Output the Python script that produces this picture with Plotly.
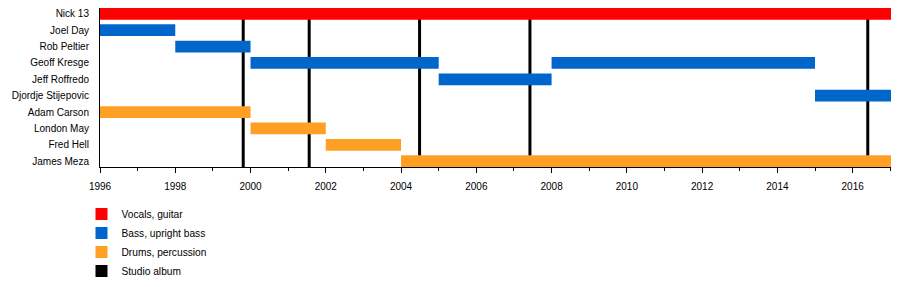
import plotly.graph_objects as go
from datetime import date

# ---- data ----
members = ["Nick 13", "Joel Day", "Rob Peltier", "Geoff Kresge", "Jeff Roffredo",
           "Djordje Stijepovic", "Adam Carson", "London May", "Fred Hell", "James Meza"]

# tenure periods: (member, start, end, role)
period_member = ["Nick 13", "Joel Day", "Rob Peltier", "Geoff Kresge", "Jeff Roffredo",
                 "Geoff Kresge", "Djordje Stijepovic", "Adam Carson", "London May",
                 "Fred Hell", "James Meza"]
period_start = ["1996-01-01", "1996-01-01", "1998-01-01", "2000-01-01", "2005-01-01",
                "2008-01-01", "2015-01-01", "1996-01-01", "2000-01-01",
                "2002-01-01", "2004-01-01"]
period_end = ["2017-01-08", "1998-01-01", "2000-01-01", "2005-01-01", "2008-01-01",
              "2015-01-01", "2017-01-08", "2000-01-01", "2002-01-01",
              "2004-01-01", "2017-01-08"]
period_role = ["Vocals, guitar", "Bass, upright bass", "Bass, upright bass",
               "Bass, upright bass", "Bass, upright bass", "Bass, upright bass",
               "Bass, upright bass", "Drums, percussion", "Drums, percussion",
               "Drums, percussion", "Drums, percussion"]

roles = ["Vocals, guitar", "Bass, upright bass", "Drums, percussion"]
role_colors = ["#ff0000", "#0066cc", "#ff9f24"]

album_dates = ["1999-10-22", "2001-07-24", "2004-06-29", "2007-06-05", "2016-05-27"]
album_label = "Studio album"

timeline_start = "1996-01-01"
timeline_end = "2017-01-08"
tick_years = list(range(1996, 2017, 2))


def dec_year(s):
    d = date.fromisoformat(s)
    y0 = date(d.year, 1, 1)
    y1 = date(d.year + 1, 1, 1)
    return d.year + (d - y0).days / (y1 - y0).days


fig = go.Figure()

# album lines (behind bars)
for ad in album_dates:
    fig.add_shape(type="line", xref="x", yref="paper",
                  x0=dec_year(ad), x1=dec_year(ad), y0=0, y1=1,
                  line=dict(color="black", width=3), layer="below")

for role, col in zip(roles, role_colors):
    ys, bases, lens = [], [], []
    for m, s, e, r in zip(period_member, period_start, period_end, period_role):
        if r == role:
            ys.append(m)
            bases.append(dec_year(s))
            lens.append(dec_year(e) - dec_year(s))
    fig.add_trace(go.Bar(y=ys, x=lens, base=bases, orientation="h", name=role,
                         marker=dict(color=col, line=dict(width=0)), width=0.714,
                         hoverinfo="skip"))

# legend entry for albums
fig.add_trace(go.Bar(y=[None], x=[None], orientation="h", name=album_label,
                     marker=dict(color="black", line=dict(width=0))))

fig.update_layout(
    width=892, height=279,
    margin=dict(l=92, r=9, t=0, b=120, autoexpand=False),
    paper_bgcolor="white", plot_bgcolor="white",
    font=dict(family="Liberation Sans, Arial, sans-serif", size=10, color="black"),
    barmode="overlay",
    showlegend=True,
    legend=dict(x=-0.0234, xanchor="left", y=-0.205, yanchor="top",
                bgcolor="rgba(0,0,0,0)", font=dict(size=10.2), itemwidth=30,
                traceorder="normal"),
)
fig.update_xaxes(range=[dec_year(timeline_start), dec_year(timeline_end)],
                 tickvals=tick_years, ticktext=[str(y) for y in tick_years],
                 ticks="outside", ticklen=5, tickcolor="black", tickwidth=1,
                 minor=dict(dtick=1, tick0=1996, ticks="outside", ticklen=3,
                            tickcolor="black", tickwidth=1),
                 showline=True, linecolor="black", linewidth=1,
                 showgrid=False, zeroline=False, fixedrange=True,
                 ticklabelstandoff=5)
fig.update_yaxes(categoryorder="array", categoryarray=members,
                 range=[9.357, -0.357], showline=True, linecolor="black", linewidth=1,
                 ticks="", showgrid=False, zeroline=False, ticklabelstandoff=8)

fig.write_html("out.html")
